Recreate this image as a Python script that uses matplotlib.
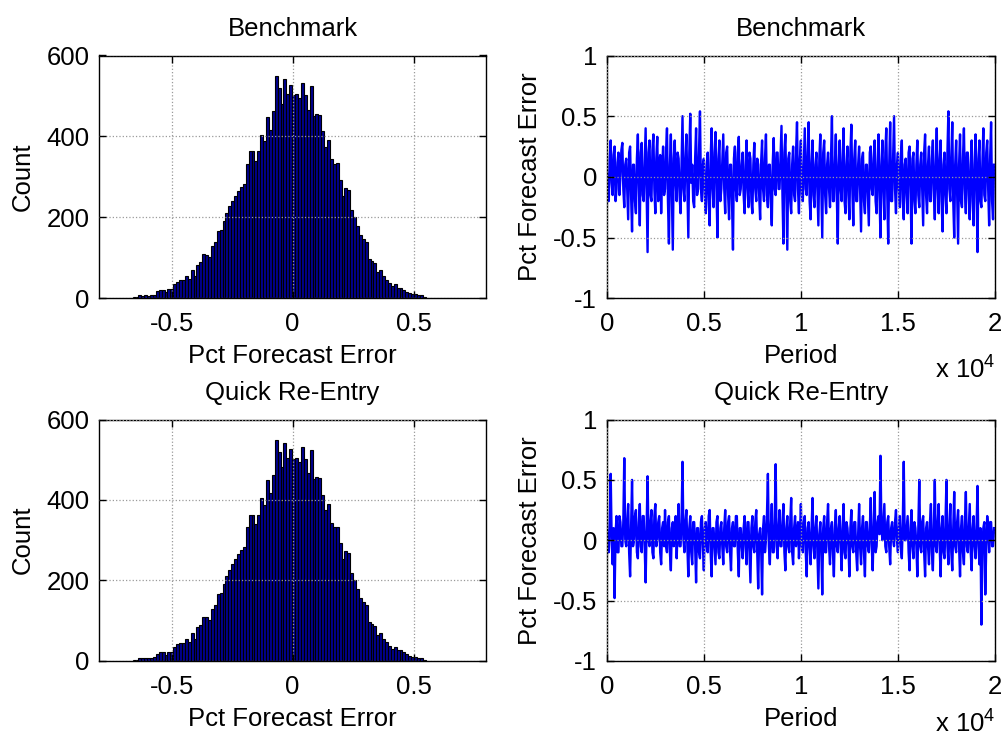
import numpy as np
import matplotlib.pyplot as plt

plt.rcParams['font.family'] = ['Liberation Sans', 'DejaVu Sans']
plt.rcParams['mathtext.fontset'] = 'custom'
plt.rcParams['mathtext.rm'] = 'Liberation Sans'
plt.rcParams['axes.unicode_minus'] = False

# histogram counts (same for both panels)
hist_start = -0.661
hist_end = 0.55
hist_counts = [3, 3, 7, 6, 7, 6, 7, 9, 17, 21, 21, 15, 22, 22, 34, 41, 45, 45,
               55, 47, 69, 55, 83, 90, 109, 108, 101, 130, 138, 165, 169, 192,
               210, 227, 240, 253, 266, 276, 282, 332, 363, 363, 340, 363, 404,
               388, 449, 417, 462,
               550, 519, 481, 541, 505, 528, 502, 505, 495, 532, 502, 466, 525,
               451, 456, 454, 413, 375, 390, 344, 333, 334, 293, 253, 273, 267,
               219, 201,
               178, 156, 146, 140, 97, 92, 86, 64, 69, 54, 46, 38, 30, 35, 26,
               26, 21, 16, 13, 10, 10, 8, 7, 3]

# forecast error per period (sampled every 50 periods)
period_step = 50
bench_err = [
    0.05, -0.12, -0.2, 0.15, 0.3, -0.05, -0.15, 0.18, 0.25, -0.2, -0.1, 0.12, 0.2, -0.15, 0.0, 0.22, 0.28, -0.1, -0.25, 0.1,
    0.15, -0.1, -0.35, 0.2, 0.25, -0.15, -0.45, 0.1, 0.1, -0.2, -0.3, 0.15, 0.35, -0.05, -0.4, 0.2, 0.28, -0.15, -0.2, 0.1,
    0.4, -0.1, -0.62, 0.2, 0.3, -0.15, -0.2, 0.22, 0.35, -0.1, -0.3, 0.15, 0.33, -0.2, 0.1, 0.18, -0.3, 0.05, 0.25, -0.15,
    -0.1, 0.2, 0.4, -0.2, -0.55, 0.1, 0.35, -0.1, -0.6, 0.15, 0.3, -0.05, -0.2, 0.2, 0.15, -0.15, -0.3, 0.1, 0.5, -0.1,
    -0.2, 0.15, 0.35, -0.1, -0.5, 0.2, 0.52, -0.05, 0.1, -0.2, -0.25, 0.15, 0.4, -0.15, -0.1, 0.2, 0.54, -0.1, -0.2, 0.1,
    0.15, -0.15, -0.3, 0.1, 0.2, -0.2, -0.4, 0.15, 0.4, -0.1, -0.25, 0.2, 0.37, -0.1, -0.5, 0.15, 0.3, -0.2, -0.1, 0.12,
    0.35, -0.1, -0.3, 0.2, 0.25, -0.15, -0.35, 0.1, 0.1, -0.2, -0.6, 0.15, 0.25, -0.1, -0.2, 0.2, 0.33, -0.15, -0.1, 0.1,
    0.2, -0.15, -0.3, 0.1, 0.3, -0.1, -0.25, 0.2, 0.15, -0.2, -0.3, 0.1, 0.28, -0.1, -0.2, 0.15, 0.1, -0.15, -0.35, 0.12,
    0.3, -0.1, -0.2, 0.15, 0.35, -0.15, -0.25, 0.1, 0.1, -0.2, -0.4, 0.12, 0.32, -0.1, -0.15, 0.2, 0.2, -0.1, -0.1, 0.15,
    0.42, -0.15, -0.55, 0.2, 0.35, -0.1, -0.6, 0.15, 0.2, -0.2, -0.3, 0.1, 0.25, -0.15, -0.2, 0.2, 0.45, -0.1, -0.3, 0.15,
    0.3, -0.15, -0.2, 0.1, 0.4, -0.1, -0.15, 0.2, 0.45, -0.2, -0.35, 0.12, 0.3, -0.15, -0.25, 0.1, 0.2, -0.1, -0.4, 0.15,
    0.35, -0.1, -0.5, 0.2, 0.3, -0.15, -0.3, 0.1, 0.2, -0.1, -0.25, 0.15, 0.5, -0.2, -0.2, 0.1, 0.35, -0.15, -0.55, 0.1,
    0.3, -0.1, -0.2, 0.15, 0.4, -0.2, -0.3, 0.1, 0.25, -0.15, -0.35, 0.2, 0.43, -0.1, -0.4, 0.15, 0.3, -0.2, -0.2, 0.1,
    0.25, -0.1, -0.45, 0.15, 0.2, -0.2, -0.3, 0.1, 0.1, -0.15, -0.4, 0.2, 0.25, -0.1, -0.15, 0.15, 0.3, -0.2, -0.3, 0.1,
    0.35, -0.15, -0.5, 0.1, 0.3, -0.1, -0.35, 0.2, 0.4, -0.15, -0.55, 0.1, 0.45, -0.2, -0.2, 0.15, 0.5, -0.1, -0.3, 0.1,
    0.2, -0.1, -0.25, 0.15, 0.3, -0.2, -0.35, 0.1, 0.15, -0.15, -0.3, 0.2, 0.25, -0.1, -0.55, 0.15, 0.2, -0.2, -0.3, 0.1,
    0.3, -0.15, -0.25, 0.1, 0.2, -0.1, -0.4, 0.2, 0.35, -0.15, -0.3, 0.1, 0.25, -0.2, -0.2, 0.15, 0.3, -0.1, -0.35, 0.1,
    0.4, -0.1, -0.3, 0.15, 0.3, -0.2, -0.45, 0.1, 0.2, -0.15, -0.3, 0.2, 0.54, -0.1, -0.2, 0.15, 0.45, -0.2, -0.5, 0.1,
    0.3, -0.15, -0.55, 0.1, 0.35, -0.2, -0.25, 0.15, 0.4, -0.1, -0.3, 0.2, 0.2, -0.15, -0.35, 0.1, 0.3, -0.2, -0.4, 0.1,
    0.35, -0.1, -0.62, 0.15, 0.3, -0.2, -0.25, 0.1, 0.4, -0.15, -0.2, 0.2, 0.3, -0.1, -0.4, 0.15, 0.45, -0.2, -0.35, 0.1,
]

quick_err = [
    0.1, -0.05, -0.1, 0.15, 0.55, 0.0, -0.2, 0.1, -0.48, 0.05, 0.2, -0.1, -0.1, 0.2, 0.15, -0.05, -0.05, 0.15, 0.68, 0.0,
    -0.05, 0.15, 0.3, -0.1, -0.3, 0.1, 0.5, -0.05, 0.0, 0.2, 0.25, -0.1, -0.15, 0.15, 0.3, -0.05, -0.1, 0.2, 0.2, -0.05,
    -0.35, 0.1, 0.53, 0.0, -0.05, 0.15, 0.25, -0.1, -0.15, 0.2, 0.3, -0.05, 0.0, 0.15, 0.2, -0.1, -0.2, 0.1, 0.15, -0.05,
    0.25, -0.05, -0.1, 0.15, 0.2, -0.1, -0.25, 0.1, 0.15, -0.05, 0.05, 0.2, -0.15, 0.1, 0.3, -0.05, -0.05, 0.15, 0.65, 0.0,
    -0.1, 0.15, 0.25, -0.05, -0.3, 0.1, 0.2, -0.1, -0.2, 0.15, 0.15, -0.05, -0.35, 0.1, 0.1, -0.1, -0.15, 0.15, 0.2, -0.05,
    -0.25, 0.1, 0.15, -0.05, -0.1, 0.2, 0.25, -0.1, -0.3, 0.1, 0.1, -0.05, -0.2, 0.15, 0.2, -0.1, -0.15, 0.1, 0.15, -0.05,
    -0.2, 0.1, 0.25, -0.05, -0.1, 0.15, 0.2, -0.1, -0.25, 0.1, 0.15, -0.05, -0.05, 0.2, 0.2, -0.1, -0.3, 0.1, 0.1, -0.05,
    -0.15, 0.1, 0.2, -0.05, -0.2, 0.15, 0.15, -0.1, -0.35, 0.1, 0.2, -0.05, -0.1, 0.15, 0.25, -0.1, -0.4, 0.05, 0.1, -0.05,
    -0.45, 0.1, 0.2, -0.1, 0.0, 0.2, 0.55, -0.05, -0.2, 0.1, 0.3, -0.1, -0.1, 0.15, 0.63, -0.05, -0.15, 0.1, 0.25, -0.05,
    -0.05, 0.15, 0.3, -0.1, -0.25, 0.1, 0.2, -0.05, -0.1, 0.15, 0.35, -0.1, -0.2, 0.1, 0.2, -0.05, 0.05, 0.15, -0.15, 0.05,
    0.3, -0.05, -0.1, 0.15, 0.2, -0.1, -0.3, 0.1, 0.15, -0.05, -0.2, 0.1, 0.35, -0.05, -0.15, 0.1, 0.2, -0.1, -0.4, 0.05,
    0.15, -0.05, -0.45, 0.1, 0.2, -0.1, -0.1, 0.15, 0.3, -0.05, -0.2, 0.1, 0.15, -0.1, -0.3, 0.1, 0.25, -0.05, -0.1, 0.1,
    0.2, -0.05, -0.25, 0.1, 0.3, -0.1, -0.15, 0.15, 0.1, -0.05, -0.3, 0.1, 0.25, -0.05, -0.1, 0.15, 0.15, -0.1, -0.25, 0.05,
    0.3, -0.05, -0.2, 0.1, 0.2, -0.1, -0.3, 0.15, 0.15, -0.05, -0.1, 0.1, 0.35, -0.05, -0.25, 0.1, 0.4, -0.1, -0.05, 0.15,
    0.2, 0.05, 0.7, 0.1, 0.0, 0.15, 0.3, -0.05, -0.1, 0.15, 0.2, -0.05, -0.2, 0.1, 0.15, 0.0, -0.05, 0.15, 0.25, 0.0,
    -0.1, 0.1, 0.2, -0.05, -0.15, 0.15, 0.65, 0.0, 0.0, 0.1, 0.2, -0.1, -0.25, 0.1, 0.25, -0.05, -0.15, 0.15, 0.1, -0.05,
    -0.3, 0.1, 0.5, -0.05, -0.1, 0.15, 0.2, -0.1, -0.3, 0.1, 0.15, -0.05, -0.2, 0.15, 0.3, -0.1, -0.25, 0.1, 0.5, -0.05,
    -0.1, 0.15, 0.3, -0.05, -0.3, 0.1, 0.2, -0.1, -0.15, 0.15, 0.5, -0.05, -0.2, 0.1, 0.3, -0.1, -0.25, 0.1, 0.4, -0.05,
    -0.1, 0.15, 0.25, -0.05, -0.3, 0.1, 0.2, -0.1, -0.2, 0.15, 0.4, -0.05, -0.1, 0.1, 0.3, -0.1, -0.25, 0.1, 0.2, -0.05,
    -0.15, 0.1, 0.45, -0.05, -0.2, 0.1, -0.7, -0.1, 0.1, 0.15, -0.45, -0.05, 0.2, 0.1, -0.1, 0.15, 0.15, -0.05, -0.05, 0.1,
]

titles = ['Benchmark', 'Quick Re-Entry']
FS = 18.5


def style_axes(ax):
    ax.tick_params(direction='in', length=5, width=1, top=True, right=True,
                   labelsize=FS)
    ax.tick_params(axis='x', pad=10)
    ax.tick_params(axis='y', pad=7)
    for s in ax.spines.values():
        s.set_linewidth(1)
    ax.grid(True, linestyle=':', color='#9a9a9a', linewidth=0.9)
    ax.set_axisbelow(False)


fig = plt.figure(figsize=(10.03, 7.4), dpi=100)
rows = [(0.597, 0.328, -0.29), (0.107, 0.326, -0.255)]

nb = len(hist_counts)
edges = np.linspace(hist_start, hist_end, nb + 1)
periods = np.arange(len(bench_err)) * period_step

for r, (bottom, height, xoff) in enumerate(rows):
    # histogram
    ax = fig.add_axes([0.0987, bottom, 0.386, height])
    ax.bar(edges[:-1], hist_counts, width=np.diff(edges), align='edge',
           color='#000090', edgecolor='black', linewidth=0.8)
    ax.set_xlim(-0.8, 0.8)
    ax.set_ylim(0, 600)
    ax.set_xticks([-0.5, 0, 0.5])
    ax.set_xticklabels(['-0.5', '0', '0.5'])
    ax.set_yticks([0, 200, 400, 600])
    ax.set_title(titles[r], fontsize=FS, pad=14)
    ax.set_xlabel('Pct Forecast Error', fontsize=FS, labelpad=6)
    ax.set_ylabel('Count', fontsize=FS, labelpad=8)
    style_axes(ax)

    # time series
    ax2 = fig.add_axes([0.605, bottom, 0.387, height])
    err = bench_err if r == 0 else quick_err
    ax2.plot(periods, err, color='#0000ff', linewidth=1.7)
    ax2.set_xlim(0, 20000)
    ax2.set_ylim(-1, 1)
    ax2.set_xticks([0, 5000, 10000, 15000, 20000])
    ax2.set_xticklabels(['0', '0.5', '1', '1.5', '2'])
    ax2.set_yticks([-1, -0.5, 0, 0.5, 1])
    ax2.set_yticklabels(['-1', '-0.5', '0', '0.5', '1'])
    ax2.set_title(titles[r], fontsize=FS, pad=14)
    ax2.set_xlabel('Period', fontsize=FS, labelpad=6)
    ax2.set_ylabel('Pct Forecast Error', fontsize=FS, labelpad=8)
    ax2.text(1.0, xoff, r'x 10$^4$', transform=ax2.transAxes,
             ha='right', va='center', fontsize=FS)
    style_axes(ax2)

fig.savefig('out.png', dpi=100)
